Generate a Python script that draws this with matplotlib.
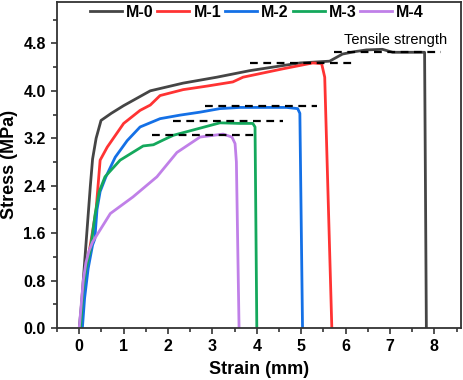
import numpy as np
import matplotlib
matplotlib.use("Agg")
from matplotlib import pyplot as plt
from matplotlib.ticker import MultipleLocator

plt.rcParams['font.family'] = ['Liberation Sans', 'DejaVu Sans']

LABELS = ["M-0", "M-1", "M-2", "M-3", "M-4"]
COLORS = ["#454545", "#ff3333", "#1470e6", "#14a85c", "#c080e8"]

# strain (mm), stress (MPa)
M0_X = [0.0, 0.05, 0.1, 0.17, 0.25, 0.3, 0.38, 0.49, 0.72, 1.0, 1.6, 2.34, 3.1, 3.84, 4.97, 5.64, 5.93, 6.2, 6.47, 6.83, 7.06, 7.78, 7.82]
M0_Y = [0.0, 0.4, 0.9, 1.6, 2.4, 2.85, 3.2, 3.5, 3.62, 3.75, 4.0, 4.13, 4.23, 4.34, 4.47, 4.5, 4.62, 4.66, 4.69, 4.7, 4.65, 4.65, 0.0]

M1_X = [0.03, 0.08, 0.15, 0.25, 0.38, 0.47, 0.63, 1.0, 1.37, 1.6, 1.82, 2.34, 2.88, 3.46, 3.69, 4.58, 5.26, 5.46, 5.53, 5.69]
M1_Y = [0.0, 0.5, 1.0, 1.4, 2.0, 2.83, 3.05, 3.45, 3.67, 3.76, 3.92, 4.02, 4.08, 4.15, 4.23, 4.37, 4.47, 4.46, 4.23, 0.0]

M2_X = [0.07, 0.12, 0.2, 0.3, 0.35, 0.4, 0.47, 0.6, 0.81, 1.08, 1.37, 1.82, 2.27, 2.72, 3.17, 3.62, 4.67, 4.92, 4.97, 5.03]
M2_Y = [0.0, 0.5, 1.0, 1.4, 1.5, 2.0, 2.3, 2.55, 2.88, 3.16, 3.39, 3.53, 3.59, 3.64, 3.7, 3.72, 3.72, 3.7, 3.62, 0.0]

M3_X = [0.03, 0.08, 0.15, 0.25, 0.36, 0.45, 0.58, 0.92, 1.44, 1.67, 1.89, 2.12, 2.72, 3.17, 3.62, 3.91, 3.96, 4.0]
M3_Y = [0.0, 0.6, 1.0, 1.31, 1.93, 2.3, 2.55, 2.83, 3.07, 3.09, 3.17, 3.25, 3.37, 3.46, 3.45, 3.45, 3.39, 0.0]

M4_X = [0.0, 0.09, 0.15, 0.22, 0.3, 0.7, 1.21, 1.75, 2.2, 2.72, 3.24, 3.44, 3.51, 3.54, 3.6]
M4_Y = [0.0, 0.8, 1.1, 1.3, 1.45, 1.93, 2.21, 2.55, 2.96, 3.22, 3.27, 3.22, 3.11, 2.8, 0.0]

CURVES = [(M0_X, M0_Y), (M1_X, M1_Y), (M2_X, M2_Y), (M3_X, M3_Y), (M4_X, M4_Y)]

# dashed guides marking tensile strength: (x start, x end, stress)
GUIDES = [(5.75, 8.16, 4.66), (3.84, 6.2, 4.47), (2.83, 5.35, 3.75), (2.12, 4.58, 3.49), (1.63, 4.0, 3.25)]

fig = plt.figure(figsize=(4.64, 3.8), dpi=100)
ax = fig.add_axes([0.123, 0.137, 0.8705, 0.858])

for (x, y), lab, col in zip(CURVES, LABELS, COLORS):
    ax.plot(x, y, color=col, lw=2.0, label=lab)

for x0, x1, yv in GUIDES:
    ax.plot([x0, x1], [yv, yv], color="black", lw=1.6, ls=(0, (3.5, 2.5)))

ax.text(7.13, 4.86, "Tensile strength", ha="center", va="center", fontsize=10.5)

ax.set_xlim(-0.5, 8.6)
ax.set_ylim(0, 5.5)
ax.xaxis.set_major_locator(MultipleLocator(1))
ax.xaxis.set_minor_locator(MultipleLocator(0.5))
ax.yaxis.set_minor_locator(MultipleLocator(0.4))
ax.set_yticks([0, 0.8, 1.6, 2.4, 3.2, 4.0, 4.8])
ax.set_yticklabels(["0.0", "0.8", "1.6", "2.4", "3.2", "4.0", "4.8"])
ax.tick_params(which="both", direction="out", width=1.2, labelsize=11.5, color="#333333")
ax.tick_params(which="major", length=4.5)
ax.tick_params(which="minor", length=3)
for t in ax.get_xticklabels() + ax.get_yticklabels():
    t.set_fontweight("bold")
for s in ax.spines.values():
    s.set_linewidth(1.3)
    s.set_color("#333333")

ax.set_xlabel("Strain (mm)", fontsize=13, fontweight="bold", labelpad=5)
ax.set_ylabel("Stress (MPa)", fontsize=13, fontweight="bold", labelpad=4)

leg = ax.legend(loc="upper center", bbox_to_anchor=(0.495, 1.035), ncol=5, frameon=False,
                handlelength=2.0, handletextpad=0.25, columnspacing=0.25,
                prop={"weight": "bold", "size": 11.5})

fig.savefig("out.png", dpi=100)
